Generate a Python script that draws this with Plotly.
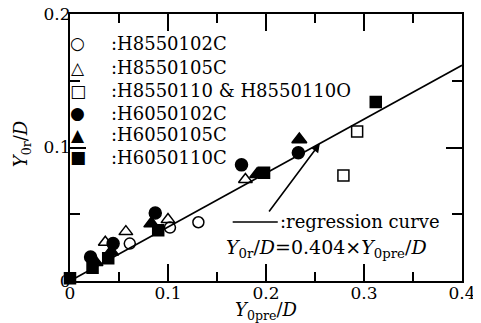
import plotly.graph_objects as go

# ---- data ----
h8550102c_x = [0.061, 0.102, 0.131]
h8550102c_y = [0.028, 0.040, 0.044]

h8550105c_x = [0.036, 0.057, 0.100, 0.179]
h8550105c_y = [0.029, 0.037, 0.046, 0.076]

h8550110_x = [0.279, 0.293]
h8550110_y = [0.079, 0.112]

h6050102c_x = [0.021, 0.044, 0.087, 0.175, 0.233]
h6050102c_y = [0.018, 0.028, 0.051, 0.087, 0.096]

h6050105c_x = [0.026, 0.042, 0.083, 0.191, 0.234]
h6050105c_y = [0.014, 0.022, 0.043, 0.080, 0.106]

h6050110c_x = [0.000, 0.023, 0.039, 0.090, 0.198, 0.312]
h6050110c_y = [0.002, 0.010, 0.017, 0.038, 0.081, 0.134]

slope = 0.404
reg_x = [0.0, 0.4]

series_names = [":H8550102C", ":H8550105C", ":H8550110 & H8550110O",
                ":H6050102C", ":H6050105C", ":H6050110C"]
legend_glyphs = ["○", "△", "□", "●", "▲", "■"]

x_tickvals = [0, 0.1, 0.2, 0.3, 0.4]
x_ticktext = ["0", "0.1", "0.2", "0.3", "0.4"]
y_tickvals = [0, 0.1, 0.2]
y_ticktext = ["0", "0.1", "0.2"]

FONT = "DejaVu Serif"

fig = go.Figure()

fig.add_trace(go.Scatter(
    x=reg_x, y=[slope * v for v in reg_x], mode="lines",
    line=dict(color="black", width=1.6), showlegend=False, hoverinfo="skip"))

series_data = [
    (h8550102c_x, h8550102c_y, "circle-open", 11),
    (h8550105c_x, h8550105c_y, "triangle-up-open", 12),
    (h8550110_x, h8550110_y, "square-open", 11),
    (h6050102c_x, h6050102c_y, "circle", 12),
    (h6050105c_x, h6050105c_y, "triangle-up", 13),
    (h6050110c_x, h6050110c_y, "square", 11),
]
for name, (xs, ys, sym, sz) in zip(series_names, series_data):
    fig.add_trace(go.Scatter(
        x=xs, y=ys, mode="markers", name=name, showlegend=False,
        marker=dict(symbol=sym, size=sz, color="black",
                    line=dict(color="black", width=1.5)),
        cliponaxis=False))

axis_common = dict(
    showline=True, linecolor="black", linewidth=2, mirror="ticks",
    ticks="inside", tickwidth=2, tickcolor="black",
    showgrid=False, zeroline=False, ticklabeloverflow="allow",
    tickfont=dict(family=FONT, size=17, color="black"),
)

fig.update_xaxes(range=[0, 0.4], tickvals=x_tickvals, ticktext=x_ticktext,
                 ticklen=17, ticklabelstandoff=-4,
                 minor=dict(tickvals=[0.05, 0.15, 0.25, 0.35], ticklen=9,
                            tickwidth=2, tickcolor="black", ticks="inside"),
                 **axis_common)
fig.update_yaxes(range=[0, 0.2], tickvals=y_tickvals, ticktext=y_ticktext,
                 ticklen=16, ticklabelstandoff=-6,
                 minor=dict(tickvals=[0.05, 0.15], ticklen=10,
                            tickwidth=2, tickcolor="black", ticks="inside"),
                 **axis_common)

ann = []
# axis titles
ann.append(dict(xref="paper", yref="paper", x=0.5, y=-0.112, yanchor="middle",
                xanchor="center", showarrow=False,
                text="<i>Y</i><sub>0pre</sub>/<i>D</i>",
                font=dict(family=FONT, size=18, color="black")))
ann.append(dict(xref="paper", yref="paper", x=-0.122, y=0.513,
                xanchor="center", yanchor="middle", showarrow=False,
                textangle=-90,
                text="<i>Y</i><sub>0r</sub>/<i>D</i>",
                font=dict(family=FONT, size=18, color="black")))

# legend built from text
row_y = [0.891, 0.798, 0.712, 0.629, 0.547, 0.464]
for glyph, name, ry in zip(legend_glyphs, series_names, row_y):
    ann.append(dict(xref="paper", yref="paper", x=0.0204, y=ry,
                    xanchor="center", yanchor="middle", showarrow=False,
                    text=glyph,
                    font=dict(family="DejaVu Sans", size=17, color="black")))
    ann.append(dict(xref="paper", yref="paper", x=0.100, y=ry,
                    xanchor="left", yanchor="middle", showarrow=False,
                    text=name,
                    font=dict(family=FONT, size=18, color="black")))

# regression legend text
ann.append(dict(xref="x", yref="y", x=0.212, y=0.0442, xanchor="left",
                yanchor="middle", showarrow=False, text=":regression curve",
                font=dict(family=FONT, size=18, color="black")))
ann.append(dict(xref="x", yref="y", x=0.157, y=0.0247, xanchor="left",
                yanchor="middle", showarrow=False,
                text="<i>Y</i><sub>0r</sub>/<i>D</i>=0.404×<i>Y</i><sub>0pre</sub>/<i>D</i>",
                font=dict(family=FONT, size=19, color="black")))
# arrow
ann.append(dict(xref="x", yref="y", axref="x", ayref="y",
                x=0.255, y=0.103, ax=0.202, ay=0.051, text="",
                showarrow=True, arrowhead=2, arrowsize=1.1, arrowwidth=1.6,
                arrowcolor="black"))

# the page body adds an 8px offset; margins compensate so the plot area
# lands at x 70..462, y 14..281 in the window
fig.update_layout(
    width=481, height=323,
    margin=dict(l=62, r=27, t=6, b=50, autoexpand=False),
    paper_bgcolor="white", plot_bgcolor="white",
    font=dict(family=FONT, size=18, color="black"),
    annotations=ann,
    shapes=[dict(type="line", xref="x", yref="y", x0=0.166, x1=0.212,
                 y0=0.0442, y1=0.0442, line=dict(color="black", width=1.6))],
    showlegend=False,
)

fig.write_html("out.html")
